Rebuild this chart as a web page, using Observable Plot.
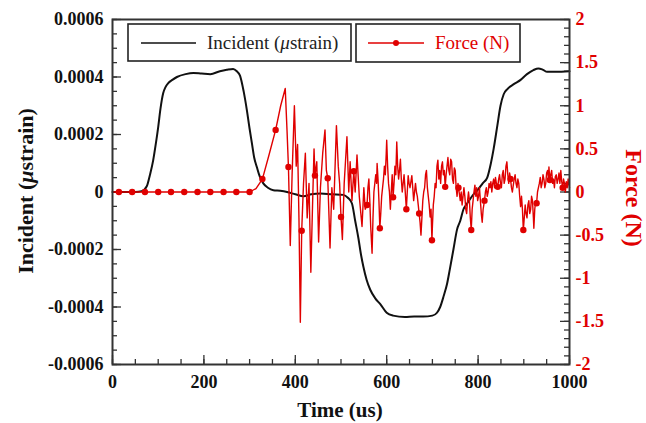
<!DOCTYPE html>
<html><head><meta charset="utf-8">
<script src="https://cdn.jsdelivr.net/npm/d3@7"></script>
<script src="https://cdn.jsdelivr.net/npm/@observablehq/plot@0.6"></script>
<style>body{margin:0;background:#fff}</style>
</head><body><div id="chart"></div>
<script>
const incidentTime = [0,50,64,75,82,89,95,100,105,111,116,122,131,141,160,177,195,214,235,250,264,272,279,287,294,300,305,310,316,322,330,340,352,367,382,400,418,435,455,480,505,515,524,531,538,544,549,556,564,575,586,600,614,640,660,680,700,710,717,725,732,738,746,754,761,768,776,790,798,810,820,828,834,842,849,856,864,878,893,907,921,932,942,951,970,1000];
const incidentStrain = [0,0,0.000003,0.00002,0.00006,0.00011,0.00017,0.000226,0.00029,0.000344,0.000365,0.000379,0.00039,0.0004,0.00041,0.000414,0.000412,0.00041,0.00042,0.000425,0.000428,0.00042,0.000405,0.00035,0.000285,0.00022,0.00017,0.00012,0.000086,0.000055,0.00003,0.000015,0.000006,0.000004,0,-0.000008,-0.000015,-0.000008,-0.000005,-0.000008,-0.00001,-0.00002,-0.00004,-0.0001,-0.00016,-0.00022,-0.00026,-0.000305,-0.00034,-0.00037,-0.00039,-0.00042,-0.00043,-0.000435,-0.000433,-0.000433,-0.00043,-0.00042,-0.0004,-0.00036,-0.00032,-0.00027,-0.0002,-0.00013,-0.0001,-0.00006,-0.00004,-0.000008,0.000005,0.00003,0.00005,0.0001,0.00015,0.00023,0.0003,0.00034,0.000358,0.000375,0.00039,0.00041,0.000424,0.00043,0.000425,0.000418,0.000418,0.00042];

// [time (us), force (N)]
const forceSeries = [
[0,0],[14,0],[43,0],[71,0],[100,0],[128,0],[157,0],[186,0],[214,0],[243,0],[271,0],[300,0],
[314,0.04],[328,0.15],[342,0.42],[357,0.72],[368,1.0],[378,1.2],[382,0.7],[385,0.29],[389,-0.62],
[393,0.2],[398,1.0],[402,0.3],[405,0.55],[408,-0.3],[411,-1.51],[414,-0.45],[418,0.1],[422,0.45],
[426,-0.3],[430,0.1],[434,-0.93],[438,-0.1],[441,0.5],[443,0.19],[447,0.35],[451,-0.58],[455,0.05],
[460,0.45],[465,0.72],[468,0.25],[471,0.16],[476,-0.65],[480,0.05],[484,-0.2],[490,0.77],[494,0.3],
[497,0.1],[500,-0.29],[503,-0.55],[507,0.1],[513,0.64],[517,0.0],[520,0.35],[524,-0.1],[528,0.24],
[531,0.0],[535,0.43],[540,-0.05],[546,-0.4],[550,0.05],[553,-0.2],[557,-0.15],
[559,0.05],[561,0.15],[563,-0.1],[565,-0.4],[568,-0.71],[570,-0.3],[572,0.0],[574,0.1],[576,0.2],
[578,0.1],[579,0.33],[581,0.15],[583,-0.1],[585,-0.42],[587,-0.25],[589,-0.05],[591,0.05],[593,0.15],
[595,0.3],[597,0.2],[599,0.45],[600,0.6],[602,0.3],[604,0.1],[606,0.0],[608,-0.2],[610,0.0],[612,0.2],
[614,-0.06],[616,0.1],[618,0.3],[620,0.2],[622,0.58],[624,0.3],[626,0.15],[628,0.25],[630,0.38],
[632,0.15],[634,0.0],[636,0.1],[638,0.2],[640,0.05],[643,-0.2],[645,0.0],[647,0.19],[649,0.1],
[651,0.05],[653,0.12],[655,0.19],[657,0.05],[659,-0.1],[661,0.0],[663,0.1],[665,0.0],[667,-0.05],
[669,-0.15],[671,-0.25],[673,-0.35],[675,-0.5],[677,-0.3],[679,-0.1],[681,0.0],[683,0.05],[685,0.2],
[687,0.25],[689,0.05],[691,-0.05],[693,-0.15],[695,-0.29],[697,-0.2],[699,-0.56],
[700,-0.4],[702,-0.15],[704,-0.05],[706,0.1],[708,0.05],[710,0.3],[712,0.37],[714,0.15],[716,0.25],
[718,0.1],[720,0.3],[722,0.35],[724,0.2],[726,0.25],[728,0.06],[730,0.2],[732,0.3],[734,0.4],
[736,0.25],[738,0.2],[740,0.38],[742,0.35],[744,0.15],[746,0.1],[748,0.28],[750,0.25],[752,0.05],
[754,-0.05],[756,0.1],[757,0.05],[759,-0.02],[761,-0.1],[763,0.0],[765,-0.15],[767,-0.05],[769,0.05],
[771,-0.05],[773,-0.2],[775,-0.25],[777,-0.1],[779,0.0],[781,-0.1],[783,-0.3],[785,-0.44],[787,-0.2],
[789,-0.1],[791,0.0],[793,0.08],[795,-0.05],[797,0.05],[799,-0.1],[801,-0.05],[803,0.05],[805,-0.1],
[807,-0.25],[809,-0.35],[811,-0.2],[814,-0.1],[816,0.0],[818,0.05],[820,-0.05],[822,0.0],[824,0.1],
[826,0.05],[828,0.12],[830,0.0],[832,0.1],[834,0.15],[836,0.05],[838,0.17],[840,0.1],[843,0.06],
[845,0.15],[847,0.2],[849,0.1],[851,0.05],[853,0.2],[855,0.25],[857,0.1],[859,0.15],[861,0.3],
[863,0.35],[865,0.2],[867,0.1],[869,0.22],[871,0.15],[873,0.05],[875,0.0],[877,0.08],[879,0.15],
[881,0.2],[883,0.1],[885,0.05],[887,0.15],[889,0.1],[891,-0.05],[893,-0.17],[895,-0.05],[897,-0.2],
[899,-0.44],[901,-0.3],[903,-0.15],[905,-0.25],[907,-0.3],[909,-0.15],[911,-0.1],[913,-0.25],
[915,-0.2],[917,-0.05],[919,-0.1],[921,-0.3],[922,-0.42],[924,-0.2],[926,-0.1],[928,-0.13],[930,0.0],
[932,0.05],[934,0.1],[936,0.17],[938,0.05],[940,0.1],[942,0.2],[944,0.15],[946,0.05],[948,0.1],
[950,0.22],[952,0.25],[954,0.15],[955,0.29],[957,0.14],[959,0.2],[961,0.25],[963,0.1],[965,0.15],
[967,0.05],[969,0.18],[971,0.2],[973,0.1],[975,0.15],[977,0.22],[979,0.1],[981,0.25],[983,0.12],
[985,0.05],[987,0.15],[989,0.1],[991,0.0],[993,0.12],[995,0.05],[997,0.15],[1000,0.05]
];
const markerTime = [14,43,71,100,128,157,186,214,243,271,300,328,357,385,414,443,471,500,528,557,585,614,643,671,699,728,757,785,814,843,871,899,928,957,985];

const seriesNames = ["Incident (μstrain)", "Force (N)"];
const strainTicks = [-0.0006,-0.0004,-0.0002,0,0.0002,0.0004,0.0006];
const forceTicks = [-2,-1.5,-1,-0.5,0,0.5,1,1.5,2];
const timeTicks = [0,200,400,600,800,1000];

const K = 0.0003; // strain units per newton (2 N spans 0.0006)
const RED = "#e00000";
const W = 646, H = 423, mL = 112, mR = 77, mT = 19, mB = 59;
const pw = W - mL - mR, ph = H - mT - mB;

const incident = incidentTime.map((t, i) => ({t, s: incidentStrain[i]}));
const force = forceSeries.map(([t, f]) => ({t, f}));
const markerSet = new Set(markerTime);
const markers = force.filter(d => markerSet.has(d.t));

const strainMinor = d3.range(-0.0006, 0.00060001, 0.00005);
const forceMinor = d3.range(-2, 2.0001, 0.1).map(f => f * K);
const timeMinor = d3.range(0, 1000.01, 50);

const font = {fontFamily: "Liberation Serif", fontSize: 18, fontWeight: "bold"};
const fmtS = d => Math.abs(d) < 1e-12 ? "0" : d.toFixed(4);
const fmtF = d => String(Math.round(d / K * 10) / 10);
const fmtT = d => String(d);

const svg = Plot.plot({
  width: W, height: H,
  marginLeft: mL, marginRight: mR, marginTop: mT, marginBottom: mB,
  style: {fontFamily: "Liberation Serif", background: "#fff"},
  x: {domain: [0, 1000]},
  y: {domain: [-0.0006, 0.0006]},
  marks: [
    Plot.tickY(strainMinor, {y: d => d, insetRight: pw - 5, stroke: "#333", strokeWidth: 1.3}),
    Plot.tickY(strainTicks, {y: d => d, insetRight: pw - 9, stroke: "#333", strokeWidth: 1.3}),
    Plot.tickY(forceMinor, {y: d => d, insetLeft: pw - 5, stroke: "#333", strokeWidth: 1.3}),
    Plot.tickY(forceTicks.map(f => f * K), {y: d => d, insetLeft: pw - 9, stroke: "#333", strokeWidth: 1.3}),
    Plot.tickX(timeMinor, {x: d => d, insetTop: ph - 5, stroke: "#333", strokeWidth: 1.3}),
    Plot.tickX(timeTicks, {x: d => d, insetTop: ph - 9, stroke: "#333", strokeWidth: 1.3}),
    Plot.axisY({ticks: strainTicks, tickSize: 0, tickPadding: 9, tickFormat: fmtS, label: null, ...font, fill: "#111"}),
    Plot.axisY({anchor: "right", ticks: forceTicks.map(f => f * K), tickSize: 0, tickPadding: 6, tickFormat: fmtF, label: null, ...font, fill: RED}),
    Plot.axisX({ticks: timeTicks, tickSize: 0, tickPadding: 11, tickFormat: fmtT, label: null, ...font, fill: "#111"}),
    Plot.line(incident, {x: "t", y: "s", curve: "monotone-x", stroke: "#111", strokeWidth: 2}),
    Plot.line(force, {x: "t", y: d => d.f * K, stroke: RED, strokeWidth: 1.4}),
    Plot.dot(markers, {x: "t", y: d => d.f * K, r: 3.2, fill: RED, stroke: "none"}),
    Plot.frame({stroke: "#333", strokeWidth: 2})
  ]
});

const s = d3.select(svg);
// axis titles
const lt = s.append("text").attr("transform", "translate(33,191) rotate(-90)")
  .attr("text-anchor", "middle").attr("font-family", "Liberation Serif")
  .attr("font-size", 22).attr("font-weight", "bold").attr("fill", "#111");
lt.append("tspan").text("Incident (");
lt.append("tspan").attr("font-style", "italic").text("μ");
lt.append("tspan").text("strain)");
s.append("text").attr("transform", "translate(626,198) rotate(90)")
  .attr("text-anchor", "middle").attr("font-family", "Liberation Serif")
  .attr("font-size", 24).attr("font-weight", "bold").attr("fill", RED).text(seriesNames[1]);
s.append("text").attr("x", 340).attr("y", 417)
  .attr("text-anchor", "middle").attr("font-family", "Liberation Serif")
  .attr("font-size", 21).attr("font-weight", "bold").attr("fill", "#111").text("Time (us)");

// legend
const lg = s.append("g").attr("text-anchor", "start");
lg.append("rect").attr("x", 128).attr("y", 24).attr("width", 223).attr("height", 37)
  .attr("fill", "#fff").attr("stroke", "#222").attr("stroke-width", 1.6);
lg.append("line").attr("x1", 141).attr("x2", 196).attr("y1", 43).attr("y2", 43).attr("stroke", "#111").attr("stroke-width", 1.5);
const t1 = lg.append("text").attr("x", 207).attr("y", 49).attr("text-anchor", "start").attr("font-family", "Liberation Serif").attr("font-size", 19).attr("fill", "#222");
t1.append("tspan").text("Incident (");
t1.append("tspan").attr("font-style", "italic").text("μ");
t1.append("tspan").text("strain)");
lg.append("rect").attr("x", 356).attr("y", 24).attr("width", 164).attr("height", 38)
  .attr("fill", "#fff").attr("stroke", "#222").attr("stroke-width", 1.6);
lg.append("line").attr("x1", 368).attr("x2", 424).attr("y1", 43).attr("y2", 43).attr("stroke", RED).attr("stroke-width", 1.5);
lg.append("circle").attr("cx", 396).attr("cy", 43).attr("r", 3).attr("fill", RED);
lg.append("text").attr("x", 435).attr("y", 49).attr("text-anchor", "start").attr("font-family", "Liberation Serif").attr("font-size", 19).attr("fill", RED).text(seriesNames[1]);

document.getElementById("chart").appendChild(svg);
</script>
</body></html>
